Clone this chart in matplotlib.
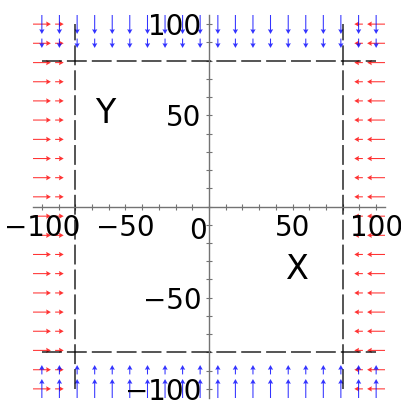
import numpy as np
import matplotlib
matplotlib.use("Agg")
import matplotlib.pyplot as plt
from matplotlib.ticker import MultipleLocator

# sample positions along each axis (same grid for x and y)
positions = [-100.0, -89.5, -78.9, -68.4, -57.9, -47.4, -36.8, -26.3, -15.8, -5.3,
             5.3, 15.8, 26.3, 36.8, 47.4, 57.9, 68.4, 78.9, 89.5, 100.0]
# wall position and how hard points past it get pushed back
wall = 80
outer_cols = [-100.0, -89.5, 89.5, 100.0]
outer_push = [20.0, 9.5, -9.5, -20.0]
major_ticks = [-100, -50, 50, 100]
region_labels = ["Y", "X"]
region_pos = [(-62.3, 45.6), (52.7, -39.9)]

fig = plt.figure(figsize=(4.01, 4.0), dpi=100)
ax = fig.add_axes([33 / 401, 2 / 400, 352 / 401, 383 / 400])

arrow_kw = dict(pivot="mid", angles="xy", scale_units="xy", scale=1.85,
                width=0.003, headwidth=5, headlength=4.5, headaxislength=4,
                alpha=0.8)

# red arrows: horizontal push from the left/right walls
xs, ys = np.meshgrid(outer_cols, positions)
us, _ = np.meshgrid(outer_push, positions)
ax.quiver(xs, ys, us, np.zeros_like(us), color="r", **arrow_kw)

# blue arrows: vertical push from the top/bottom walls
xs, ys = np.meshgrid(positions, outer_cols)
_, vs = np.meshgrid(positions, outer_push)
ax.quiver(xs, ys, np.zeros_like(vs), vs, color="b", **arrow_kw)

# the walls
for w in (-wall, wall):
    ax.plot([-100, 100], [w, w], color="k", lw=1.1, dashes=(13, 3.3), alpha=0.85)
    ax.plot([w, w], [-100, 100], color="k", lw=1.1, dashes=(13, 3.3), alpha=0.85)

for lab, (tx, ty) in zip(region_labels, region_pos):
    ax.text(tx, ty, lab, fontsize=24, ha="center", va="baseline")
ax.text(-6.6, -17.8, "0", fontsize=20, ha="center", va="baseline")

ax.set_xlim(-105.3, 105.3)
ax.set_ylim(-105, 105)
for side in ("left", "bottom"):
    ax.spines[side].set_position(("data", 0))
    ax.spines[side].set_color("0.45")
    ax.spines[side].set_linewidth(1)
ax.spines["top"].set_visible(False)
ax.spines["right"].set_visible(False)
ax.patch.set_visible(False)

ax.set_xticks(major_ticks)
ax.set_yticks(major_ticks)
ax.xaxis.set_minor_locator(MultipleLocator(10))
ax.yaxis.set_minor_locator(MultipleLocator(10))
ax.tick_params(which="both", direction="inout", length=4, width=0.8,
               color="0.45", labelsize=20)

fig.savefig("out.png", dpi=100)
